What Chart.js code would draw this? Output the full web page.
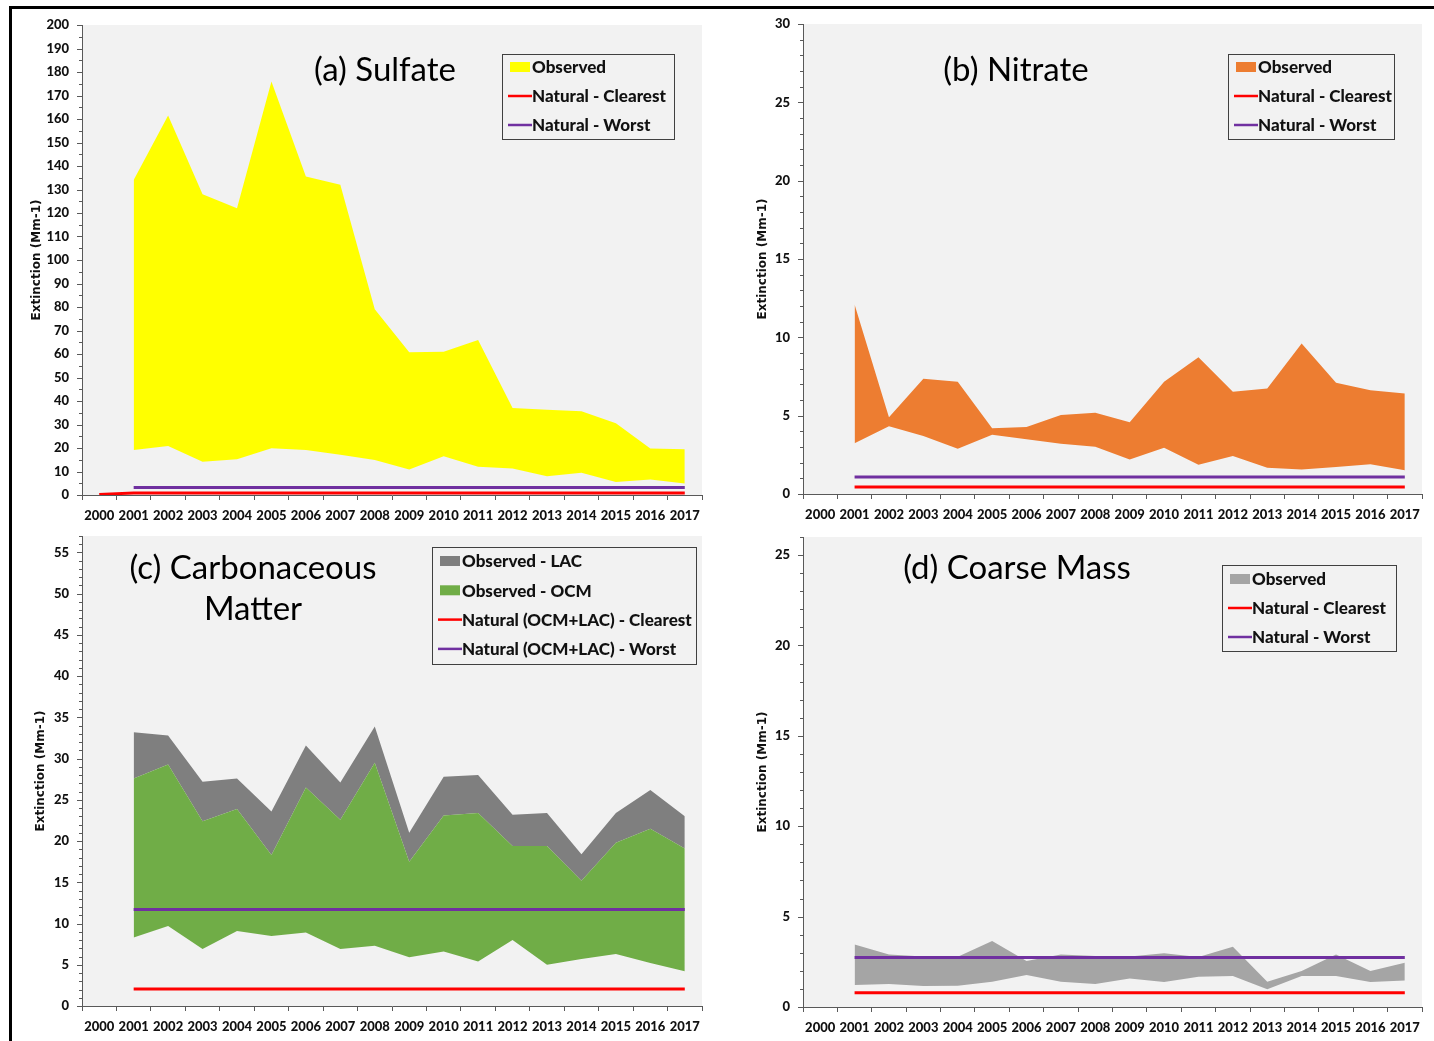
<!DOCTYPE html>
<html><head><meta charset="utf-8">
<script src="https://cdn.jsdelivr.net/npm/chart.js@4.4.1/dist/chart.umd.min.js"></script>
<style>
html,body{margin:0;padding:0;background:#fff;}
body{width:1434px;height:1041px;position:relative;overflow:hidden;}
#frameTop{position:absolute;left:9px;top:6px;width:1425px;height:3px;background:#000;}
#frameLeft{position:absolute;left:9px;top:6px;width:3px;height:1035px;background:#000;}
canvas{position:absolute;}
</style></head><body>
<div id="frameTop"></div><div id="frameLeft"></div>
<canvas id="cA" width="705" height="520" style="left:12px;top:12px"></canvas>
<canvas id="cB" width="701" height="520" style="left:733px;top:12px"></canvas>
<canvas id="cC" width="705" height="512" style="left:12px;top:524px"></canvas>
<canvas id="cD" width="701" height="512" style="left:733px;top:524px"></canvas>
<script>
// ---------- data ----------
const years = ['2000','2001','2002','2003','2004','2005','2006','2007','2008','2009','2010','2011','2012','2013','2014','2015','2016','2017'];

// (a) Sulfate
const sulfateMax = [null,134,161.5,128,122,176,135.5,132,79,60.7,61,66,37,36.3,35.6,30.5,19.8,19.5];
const sulfateMin = [null,19.1,20.9,14.1,15.2,19.9,19.1,17.1,14.9,10.9,16.5,12,11.3,8,9.5,5.5,6.6,4.9];
const sulfateClearest = [0.2,0.9,0.9,0.9,0.9,0.9,0.9,0.9,0.9,0.9,0.9,0.9,0.9,0.9,0.9,0.9,0.9,0.9];
const sulfateWorst = [null,3.2,3.2,3.2,3.2,3.2,3.2,3.2,3.2,3.2,3.2,3.2,3.2,3.2,3.2,3.2,3.2,3.2];

// (b) Nitrate
const nitrateMax = [null,12.1,4.9,7.35,7.17,4.2,4.28,5.05,5.18,4.58,7.17,8.73,6.52,6.74,9.61,7.1,6.63,6.41];
const nitrateMin = [null,3.24,4.32,3.71,2.89,3.78,3.5,3.2,3.02,2.2,2.96,1.86,2.42,1.68,1.56,1.73,1.9,1.51];
const nitrateClearest = [null,0.45,0.45,0.45,0.45,0.45,0.45,0.45,0.45,0.45,0.45,0.45,0.45,0.45,0.45,0.45,0.45,0.45];
const nitrateWorst = [null,1.08,1.08,1.08,1.08,1.08,1.08,1.08,1.08,1.08,1.08,1.08,1.08,1.08,1.08,1.08,1.08,1.08];

// (c) Carbonaceous matter
const carbTotal = [null,33.2,32.8,27.2,27.6,23.6,31.6,27.1,33.9,21.0,27.8,28.0,23.2,23.4,18.4,23.4,26.2,23.0];
const carbOcmTop = [null,27.6,29.3,22.4,23.9,18.3,26.5,22.6,29.5,17.5,23.1,23.4,19.4,19.4,15.2,19.8,21.5,19.1];
const carbMin = [null,8.3,9.7,6.9,9.1,8.5,8.9,6.9,7.3,5.9,6.6,5.4,8.0,5.0,5.7,6.3,5.2,4.2];
const carbClearest = [null,2.06,2.06,2.06,2.06,2.06,2.06,2.06,2.06,2.06,2.06,2.06,2.06,2.06,2.06,2.06,2.06,2.06];
const carbWorst = [null,11.7,11.7,11.7,11.7,11.7,11.7,11.7,11.7,11.7,11.7,11.7,11.7,11.7,11.7,11.7,11.7,11.7];

// (d) Coarse mass
const coarseMax = [null,3.46,2.91,2.8,2.78,3.65,2.54,2.91,2.82,2.8,2.97,2.76,3.33,1.4,1.99,2.91,1.99,2.45];
const coarseMin = [null,1.22,1.27,1.16,1.18,1.4,1.77,1.4,1.27,1.57,1.38,1.68,1.71,0.98,1.71,1.71,1.38,1.47];
const coarseClearest = [null,0.79,0.79,0.79,0.79,0.79,0.79,0.79,0.79,0.79,0.79,0.79,0.79,0.79,0.79,0.79,0.79,0.79];
const coarseWorst = [null,2.74,2.74,2.74,2.74,2.74,2.74,2.74,2.74,2.74,2.74,2.74,2.74,2.74,2.74,2.74,2.74,2.74];

// ---------- styles ----------
const RED = '#FF0000', PURPLE = '#7030A0', PLOTBG = '#F2F2F2', AXIS = '#595959', TXT = '#111111';
const TICKFONT = {family: 'Lato', weight: '900', size: 13};

const panelPlugin = {
  id: 'panel',
  beforeDraw(chart, args, o) {
    const {ctx, chartArea: a} = chart;
    ctx.save();
    ctx.fillStyle = PLOTBG;
    ctx.fillRect(a.left, a.top, a.right - a.left, a.bottom - a.top);
    ctx.restore();
  },
  afterDraw(chart, args, o) {
    const {ctx, chartArea: a} = chart;
    const y = chart.scales.y;
    ctx.save();
    // y tick marks (major / minor)
    ctx.strokeStyle = AXIS; ctx.lineWidth = 1;
    y.ticks.forEach(t => {
      const py = Math.round(y.getPixelForValue(t.value)) + 0.5;
      const len = (Math.abs(t.value % o.major) < 1e-9) ? 5 : 3;
      ctx.beginPath(); ctx.moveTo(a.left - len, py); ctx.lineTo(a.left, py); ctx.stroke();
    });
    // panel title
    ctx.fillStyle = '#000';
    ctx.font = o.titleSize + 'px Lato';
    ctx.textAlign = 'center'; ctx.textBaseline = 'middle';
    o.title.forEach((line, i) => ctx.fillText(line, o.titleX, o.titleY + i * o.titleGap));
    // legend box
    const L = o.legend;
    ctx.fillStyle = PLOTBG;
    ctx.fillRect(L.left, L.top, L.width, L.height);
    ctx.strokeStyle = '#404040'; ctx.lineWidth = 1;
    ctx.strokeRect(L.left + 0.5, L.top + 0.5, L.width, L.height);
    ctx.font = '900 ' + L.size + 'px Lato';
    ctx.textAlign = 'left'; ctx.textBaseline = 'middle';
    L.items.forEach((idx, i) => {
      const ds = chart.data.datasets[idx];
      const cy = L.top + L.row0 + i * L.gap;
      const sx = L.left + 8;
      if (ds.fill) {
        ctx.fillStyle = ds.backgroundColor;
        ctx.fillRect(sx, cy - 5, 20, 10);
      } else {
        ctx.strokeStyle = ds.borderColor; ctx.lineWidth = 2.5;
        ctx.beginPath(); ctx.moveTo(sx - 2, cy); ctx.lineTo(sx + 22, cy); ctx.stroke();
      }
      ctx.fillStyle = TXT;
      ctx.fillText(ds.label, sx + 22, cy + 1);
    });
    ctx.restore();
  }
};

function band(label, data, color, fill) {
  return {label, data, borderColor: 'rgba(0,0,0,0)', backgroundColor: color, borderWidth: 0,
          fill: fill, pointRadius: 0, pointHoverRadius: 0, order: 2};
}
function hline(label, data, color) {
  return {label, data, borderColor: color, backgroundColor: color, borderWidth: 3,
          fill: false, pointRadius: 0, pointHoverRadius: 0, order: 0};
}

function makeChart(id, datasets, c) {
  return new Chart(document.getElementById(id), {
    type: 'line',
    data: {labels: years, datasets},
    plugins: [panelPlugin],
    options: {
      responsive: false, animation: false, events: [],
      layout: {padding: {top: c.padTop, right: c.padRight, left: 0, bottom: 0}},
      plugins: {
        legend: {display: false}, title: {display: false}, tooltip: {enabled: false},
        panel: {major: c.major, title: c.title, titleX: c.titleX, titleY: c.titleY, titleGap: 41,
                titleSize: 33, legend: c.legend}
      },
      scales: {
        x: {
          offset: true,
          afterFit: s => { s.height = c.xh; s.paddingLeft = 0; s.paddingRight = 0; },
          ticks: {autoSkip: false, maxRotation: 0, minRotation: 0, padding: 8, color: TXT, font: TICKFONT},
          grid: {offset: true, drawOnChartArea: false, drawTicks: true, tickLength: 5, color: AXIS, tickColor: AXIS},
          border: {display: true, color: AXIS, width: 1}
        },
        y: {
          min: 0, max: c.ymax,
          afterFit: s => { s.width = 70; s.paddingTop = 0; s.paddingBottom = 0; },
          ticks: {stepSize: c.minor, autoSkip: false, padding: 13, color: TXT, font: TICKFONT,
                  callback: v => (Math.abs(v % c.major) < 1e-9 ? String(v) : '')},
          grid: {display: false, drawTicks: false, drawOnChartArea: false},
          border: {display: true, color: AXIS, width: 1},
          title: {display: true, text: 'Extinction (Mm-1)', color: TXT,
                  font: {family: 'DejaVu Sans', weight: 'bold', size: 12},
                  padding: {top: c.titlePad, bottom: 0}}
        }
      }
    }
  });
}

makeChart('cA', [
  band('Observed min', sulfateMin, 'rgba(0,0,0,0)', false),
  band('Observed', sulfateMax, '#FFFF00', '-1'),
  hline('Natural - Clearest', sulfateClearest, RED),
  hline('Natural - Worst', sulfateWorst, PURPLE)
], {ymax: 200, minor: 5, major: 10, padTop: 13, padRight: 15, xh: 37, titlePad: 18,
    title: ['(a) Sulfate'], titleX: 373, titleY: 58,
    legend: {left: 490, top: 42, width: 172, height: 85, row0: 13, gap: 29, size: 17, items: [1, 2, 3]}});

makeChart('cB', [
  band('Observed min', nitrateMin, 'rgba(0,0,0,0)', false),
  band('Observed', nitrateMax, '#ED7D31', '-1'),
  hline('Natural - Clearest', nitrateClearest, RED),
  hline('Natural - Worst', nitrateWorst, PURPLE)
], {ymax: 30, minor: 1, major: 5, padTop: 12, padRight: 12, xh: 38, titlePad: 23,
    title: ['(b) Nitrate'], titleX: 283, titleY: 58,
    legend: {left: 495, top: 42, width: 166, height: 85, row0: 13, gap: 29, size: 17, items: [1, 2, 3]}});

makeChart('cC', [
  band('OCM min', carbMin, 'rgba(0,0,0,0)', false),
  band('Observed - OCM', carbOcmTop, '#70AD47', '-1'),
  band('Observed - LAC', carbTotal, '#7F7F7F', '-1'),
  hline('Natural (OCM+LAC) - Clearest', carbClearest, RED),
  hline('Natural (OCM+LAC) - Worst', carbWorst, PURPLE)
], {ymax: 57, minor: 1, major: 5, padTop: 12, padRight: 15, xh: 30, titlePad: 22,
    title: ['(c) Carbonaceous', 'Matter'], titleX: 241, titleY: 44,
    legend: {left: 420, top: 23, width: 264, height: 117, row0: 14, gap: 29.3, size: 17, items: [2, 1, 3, 4]}});

makeChart('cD', [
  band('Observed min', coarseMin, 'rgba(0,0,0,0)', false),
  band('Observed', coarseMax, '#A5A5A5', '-1'),
  hline('Natural - Clearest', coarseClearest, RED),
  hline('Natural - Worst', coarseWorst, PURPLE)
], {ymax: 26, minor: 1, major: 5, padTop: 13, padRight: 12, xh: 29, titlePad: 23,
    title: ['(d) Coarse Mass'], titleX: 284, titleY: 44,
    legend: {left: 489, top: 41, width: 174, height: 86, row0: 14, gap: 29, size: 17, items: [1, 2, 3]}});
</script>
</body></html>
